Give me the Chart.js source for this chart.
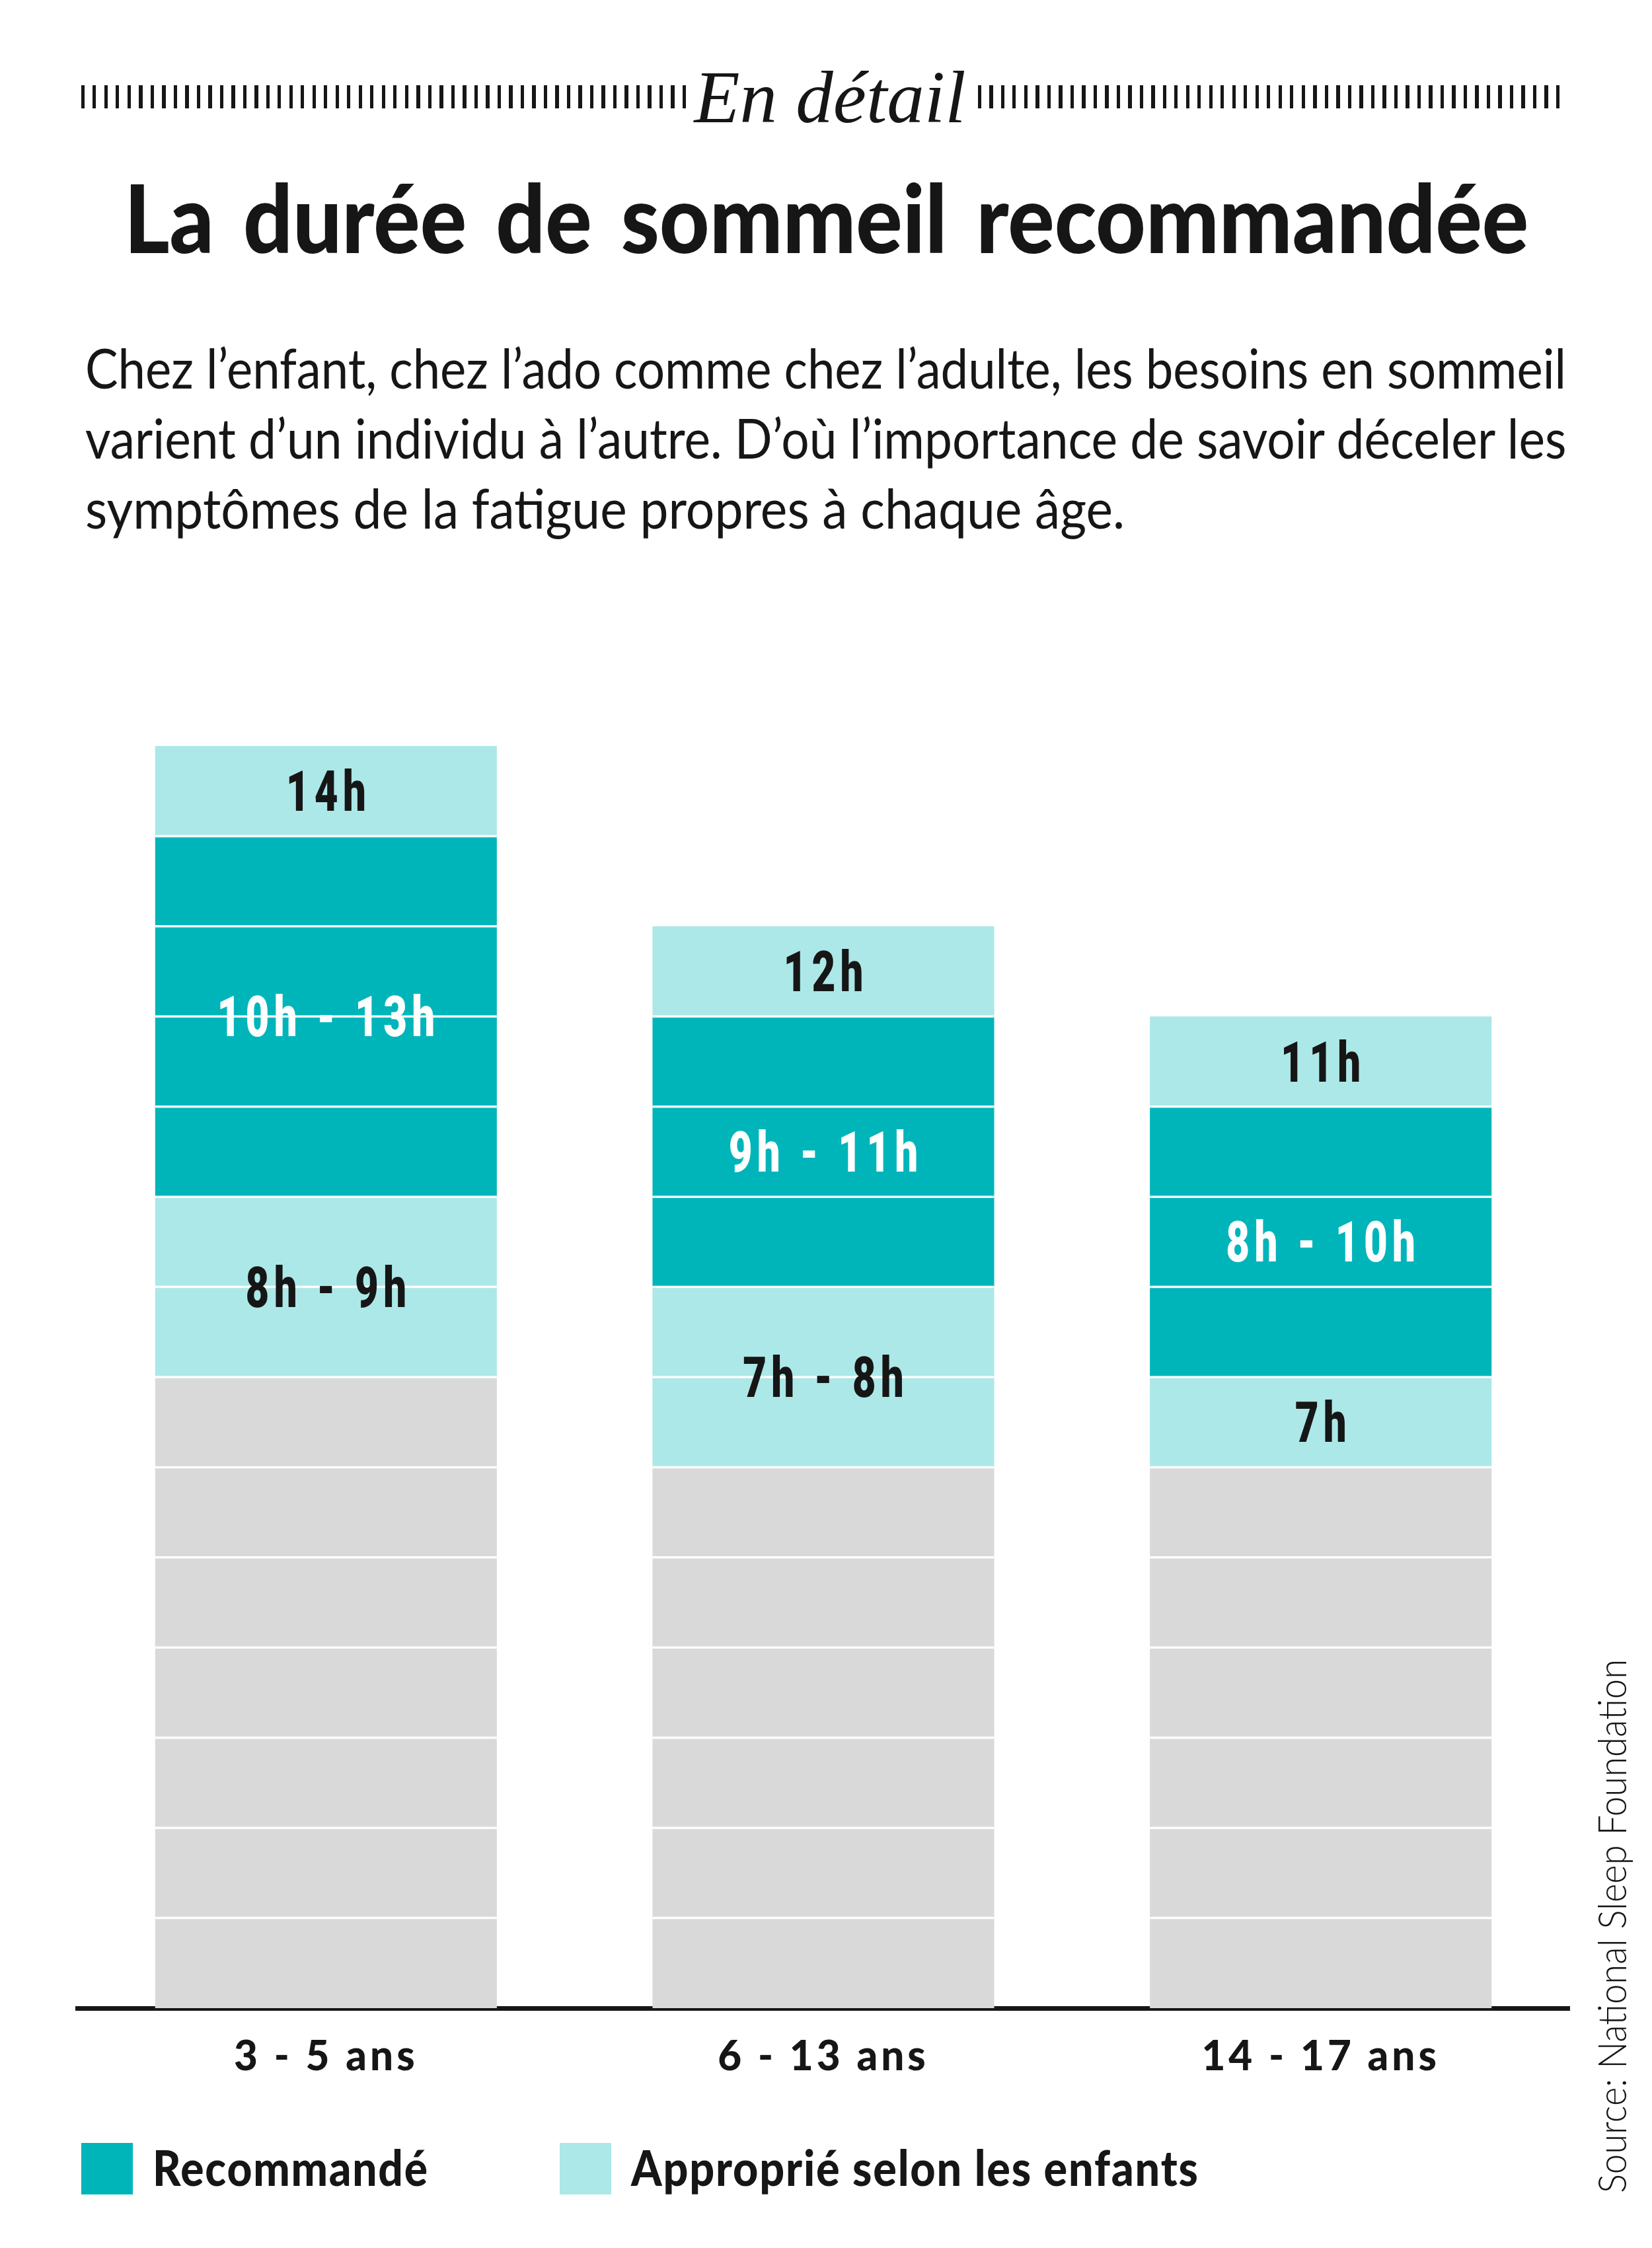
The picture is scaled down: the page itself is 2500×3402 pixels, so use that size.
<!DOCTYPE html>
<html>
<head>
<meta charset="utf-8">
<script src="https://cdn.jsdelivr.net/npm/chart.js@4.4.0/dist/chart.umd.min.js"></script>
<style>
  html, body { margin: 0; padding: 0; background: #ffffff; }
  body { width: 2500px; height: 3402px; position: relative; overflow: hidden; color: #161616; }
  #chart { position: absolute; left: 0; top: 0; width: 2500px; height: 3402px; }
  .txt { position: absolute; white-space: nowrap; line-height: 1.2; display: inline-block; }
  .ticks { position: absolute; top: 129px; height: 35px;
           background: repeating-linear-gradient(90deg, #161616 0 5px, transparent 5px 17.5px); }
  .sq { position: absolute; width: 78px; height: 78px; }
</style>
</head>
<body>
<canvas id="chart" width="2500" height="3402"></canvas>

<div class="ticks" style="left:123px; width:915px;"></div>
<div class="ticks" style="left:1480px; width:892px;"></div>
<div id="kicker" class="txt" style="font-family:'Liberation Serif','DejaVu Serif',serif; font-style:italic; font-size:113px;">En détail</div>
<div id="title" class="txt" style="font-family:Lato,'Open Sans',sans-serif; font-weight:900; font-size:143px; word-spacing:14px;">La durée de sommeil recommandée</div>
<div id="p1" class="txt" style="font-family:Lato,'Open Sans',sans-serif; font-weight:400; font-size:84px;">Chez l’enfant, chez l’ado comme chez l’adulte, les besoins en sommeil</div>
<div id="p2" class="txt" style="font-family:Lato,'Open Sans',sans-serif; font-weight:400; font-size:84px;">varient d’un individu à l’autre. D’où l’importance de savoir déceler les</div>
<div id="p3" class="txt" style="font-family:Lato,'Open Sans',sans-serif; font-weight:400; font-size:84px;">symptômes de la fatigue propres à chaque âge.</div>

<div class="sq" style="left:123px; top:3243px; background:#00B5BA;"></div>
<div id="leg1" class="txt" style="font-family:Lato,'Open Sans',sans-serif; font-weight:900; font-size:74px; letter-spacing:2px;">Recommandé</div>
<div class="sq" style="left:847px; top:3243px; background:#ACE8E8;"></div>
<div id="leg2" class="txt" style="font-family:Lato,'Open Sans',sans-serif; font-weight:900; font-size:74px; letter-spacing:2px;">Approprié selon les enfants</div>

<div id="source" class="txt" style="font-family:Lato,'Open Sans',sans-serif; font-weight:300; font-size:60px;">Source: National Sleep Foundation</div>

<script>
// ---------- data ----------
const categories = ['3 - 5 ans', '6 - 13 ans', '14 - 17 ans'];
const insufficientHours   = [7, 6, 6];
const appropriateLowHours = [2, 2, 1];
const recommendedHours    = [4, 3, 3];
const appropriateHighHours = [1, 1, 1];
const appropriateLowLabels  = ['8h - 9h', '7h - 8h', '7h'];
const recommendedLabels     = ['10h - 13h', '9h - 11h', '8h - 10h'];
const appropriateHighLabels = ['14h', '12h', '11h'];
const yMin = 0;
const yMax = 14;

const GREY = '#D9D9D9';
const DARK = '#00B5BA';
const LIGHT = '#ACE8E8';
const INK = '#161616';

// hour divider lines across each bar
const hourLines = {
  id: 'hourLines',
  afterDatasetsDraw(chart) {
    const ctx = chart.ctx;
    const y = chart.scales.y;
    const n = chart.data.labels.length;
    const last = chart.getDatasetMeta(chart.data.datasets.length - 1);
    ctx.save();
    ctx.strokeStyle = 'rgba(255,255,255,0.95)';
    ctx.lineWidth = 3.5;
    for (let i = 0; i < n; i++) {
      const el = last.data[i];
      let total = 0;
      chart.data.datasets.forEach(ds => total += ds.data[i]);
      const half = el.width / 2;
      for (let v = 1; v < total; v++) {
        const py = y.getPixelForValue(v);
        ctx.beginPath();
        ctx.moveTo(el.x - half, py);
        ctx.lineTo(el.x + half, py);
        ctx.stroke();
      }
    }
    ctx.restore();
  }
};

// segment labels centred in each coloured segment
const segmentLabels = {
  id: 'segmentLabels',
  afterDatasetsDraw(chart) {
    const ctx = chart.ctx;
    chart.data.datasets.forEach((ds, di) => {
      if (!ds.segmentLabels) return;
      const meta = chart.getDatasetMeta(di);
      meta.data.forEach((el, i) => {
        const txt = ds.segmentLabels[i];
        const cy = (el.y + el.base) / 2;
        ctx.save();
        ctx.translate(el.x, cy + 30);
        ctx.scale(0.72, 1);
        ctx.font = '900 86px Roboto, "Liberation Sans", sans-serif';
        ctx.letterSpacing = '10px';
        ctx.textAlign = 'center';
        ctx.textBaseline = 'alphabetic';
        ctx.fillStyle = ds.labelColor;
        ctx.fillText(txt, 5, 0);
        ctx.restore();
      });
    });
  }
};

const spacing = {
  id: 'spacing',
  beforeDraw(chart) { chart.ctx.letterSpacing = '5px'; },
  afterDraw(chart) { chart.ctx.letterSpacing = '0px'; }
};

const common = { stack: 's', barPercentage: 0.687, categoryPercentage: 1.0, borderWidth: 0 };

new Chart(document.getElementById('chart'), {
  type: 'bar',
  data: {
    labels: categories,
    datasets: [
      { label: 'Insuffisant', data: insufficientHours, backgroundColor: GREY, ...common },
      { label: 'Approprié selon les enfants', data: appropriateLowHours, backgroundColor: LIGHT,
        segmentLabels: appropriateLowLabels, labelColor: INK, ...common },
      { label: 'Recommandé', data: recommendedHours, backgroundColor: DARK,
        segmentLabels: recommendedLabels, labelColor: '#ffffff', ...common },
      { label: 'Approprié selon les enfants ', data: appropriateHighHours, backgroundColor: LIGHT,
        segmentLabels: appropriateHighLabels, labelColor: INK, ...common }
    ]
  },
  options: {
    responsive: false,
    animation: false,
    devicePixelRatio: 1,
    layout: { padding: { left: 117, right: 125, top: 1129, bottom: 213 } },
    plugins: { legend: { display: false }, tooltip: { enabled: false } },
    scales: {
      x: {
        stacked: true,
        grid: { display: false, drawTicks: false },
        border: { display: true, color: INK, width: 7 },
        ticks: { color: INK, padding: 37, font: { family: 'Lato', weight: 900, size: 62 } },
        afterFit(scale) { scale.height = 150; }
      },
      y: {
        stacked: true,
        display: false,
        min: yMin,
        max: yMax
      }
    }
  },
  plugins: [spacing, hourLines, segmentLabels]
});

// ---------- text placement helpers ----------
function place(id, x, base, w, align, rotate) {
  const el = document.getElementById(id);
  el.style.left = '0px'; el.style.top = '0px'; el.style.transform = 'none';
  let probe = el.querySelector('.probe');
  if (!probe) {
    probe = document.createElement('span');
    probe.className = 'probe';
    probe.style.cssText = 'display:inline-block;width:0;height:0;vertical-align:baseline;';
    el.appendChild(probe);
  }
  const bo = probe.offsetTop;
  const nw = el.offsetWidth;
  const s = w ? w / nw : 1;
  el.style.transformOrigin = '0 0';
  if (rotate) {
    el.style.left = (x - bo) + 'px';
    el.style.top = base + 'px';
    el.style.transform = 'rotate(-90deg) scaleX(' + s + ')';
    return;
  }
  const left = align === 'center' ? x - (w || nw) / 2 : x;
  el.style.left = left + 'px';
  el.style.top = (base - bo) + 'px';
  el.style.transform = 'scaleX(' + s + ')';
}

function layoutText() {
  place('kicker', 1256, 185, 411, 'center');
  place('title', 1250, 383, 2125, 'center');
  place('p1', 129, 588, 2241, 'left');
  place('p2', 129, 694, 2241, 'left');
  place('p3', 129, 800, 1573, 'left');
  place('leg1', 231, 3308, 418, 'left');
  place('leg2', 955, 3308, 860, 'left');
  place('source', 2461, 3319, 808, 'left', true);
}
layoutText();
if (document.fonts && document.fonts.ready) { document.fonts.ready.then(layoutText); }
</script>
</body>
</html>
